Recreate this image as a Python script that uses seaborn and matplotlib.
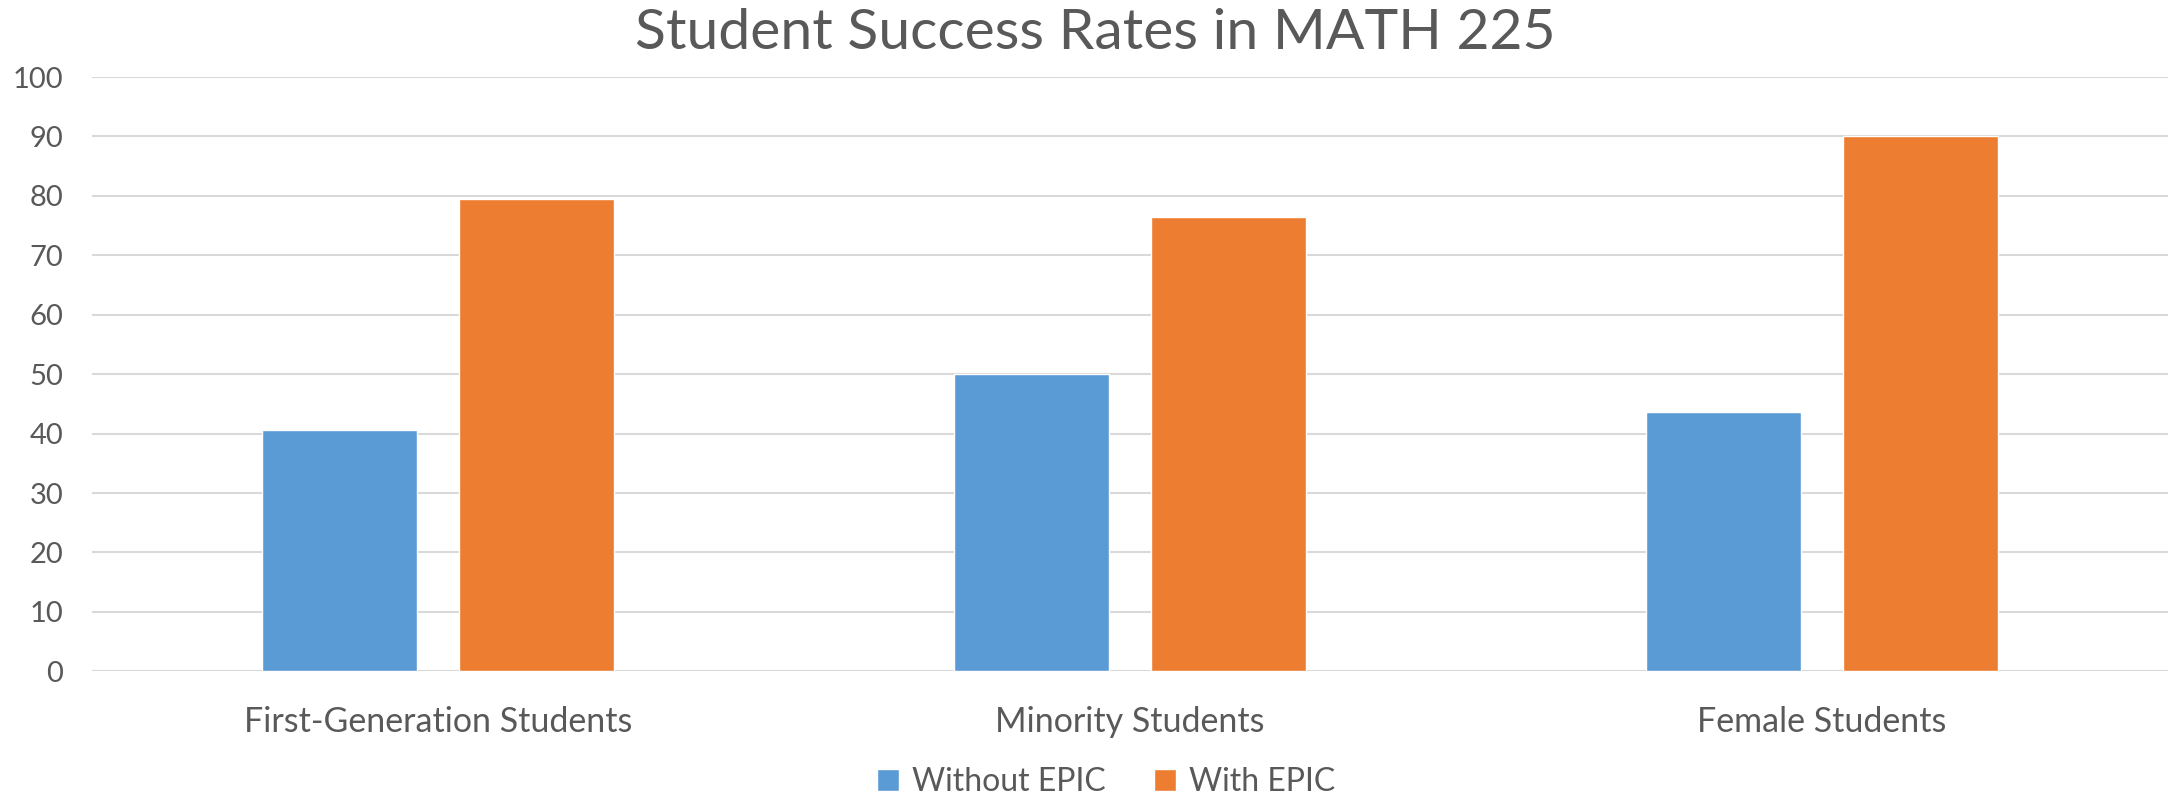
import pandas as pd
import seaborn as sns
import matplotlib.pyplot as plt
from matplotlib.patches import Patch

categories = ['First-Generation Students', 'Minority Students', 'Female Students']
without_epic = [40.6, 50.0, 43.7]
with_epic = [79.4, 76.5, 90.0]
series_names = ['Without EPIC', 'With EPIC']
colors = ['#5B9BD5', '#ED7D31']
yticks = [0, 10, 20, 30, 40, 50, 60, 70, 80, 90, 100]

text_color = '#595959'
grid_color = '#D9D9D9'

df = pd.DataFrame({
    'category': categories * 2,
    'rate': without_epic + with_epic,
    'group': [series_names[0]] * 3 + [series_names[1]] * 3,
})

sns.set_theme(style='white')
plt.rcParams['font.family'] = ['Lato', 'DejaVu Sans']

fig = plt.figure(figsize=(21.73, 7.99), dpi=100)
ax = fig.add_axes([0.0425, 0.1598, 0.9552, 0.7438])

sns.barplot(data=df, x='category', y='rate', hue='group', palette=colors,
            width=0.57, gap=0.214, saturation=1, ax=ax, legend=False)

ax.set_xlim(-0.5, 2.5)
ax.set_ylim(0, 100)
ax.set_yticks(yticks)
ax.grid(axis='y', color=grid_color, linewidth=1.5)
ax.set_axisbelow(True)
for s in ax.spines.values():
    s.set_visible(False)
ax.tick_params(axis='y', length=0, pad=21, labelsize=21, labelcolor=text_color)
ax.tick_params(axis='x', length=0, pad=25, labelsize=24.5, labelcolor=text_color)
ax.set_xlabel('')
ax.set_ylabel('')

fig.suptitle('Student Success Rates in MATH 225', x=0.504, y=0.99, fontsize=41,
             color=text_color, va='top')

handles = [Patch(facecolor=c, label=n) for c, n in zip(colors, series_names)]
fig.legend(handles=handles, loc='center', bbox_to_anchor=(0.509, 0.021), ncol=2,
           frameon=False, fontsize=23, labelcolor=text_color, handlelength=0.7,
           handleheight=0.7, handletextpad=0.4, columnspacing=1.5,
           borderpad=0, borderaxespad=0)

fig.savefig('out.png', dpi=100)
